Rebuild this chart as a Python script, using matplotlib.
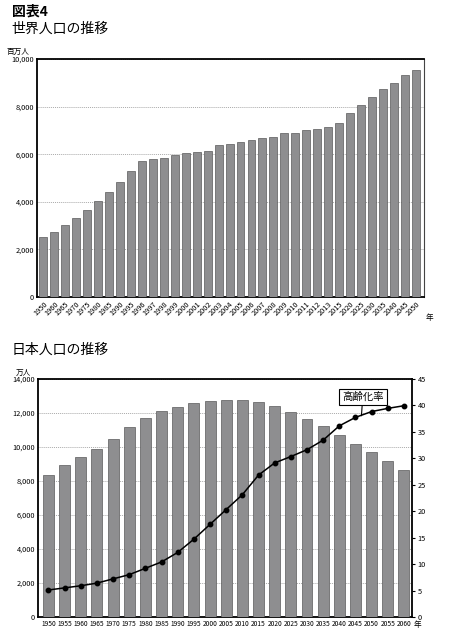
import matplotlib
matplotlib.use('Agg')
import matplotlib.pyplot as plt
import numpy as np

plt.rcParams['font.family'] = ['Noto Sans CJK JP', 'DejaVu Sans']

# 世界人口（百万人）
world_years = ['1950', '1960', '1965', '1970', '1975', '1980', '1985', '1990', '1995',
               '1996', '1997', '1998', '1999', '2000', '2001', '2002', '2003', '2004',
               '2005', '2006', '2007', '2008', '2009', '2010', '2011', '2012', '2013',
               '2015', '2020', '2025', '2030', '2035', '2040', '2045', '2050']
world_pop = [2510, 2730, 3010, 3300, 3650, 4050, 4420, 4850, 5290,
             5710, 5790, 5860, 5950, 6030, 6100, 6140, 6380, 6430,
             6510, 6580, 6670, 6740, 6890, 6900, 7000, 7070, 7160,
             7330, 7720, 8070, 8400, 8740, 8980, 9310, 9540]

# 日本人口（万人）と高齢化率（%）
japan_years = ['1950', '1955', '1960', '1965', '1970', '1975', '1980', '1985', '1990',
               '1995', '2000', '2005', '2010', '2015', '2020', '2025', '2030', '2035',
               '2040', '2045', '2050', '2055', '2060']
japan_pop = [8370, 8960, 9400, 9880, 10440, 11190, 11690, 12100, 12340,
             12560, 12690, 12770, 12730, 12650, 12410, 12060, 11660, 11200,
             10710, 10180, 9700, 9170, 8640]
aging_rate = [5.1, 5.5, 5.9, 6.4, 7.2, 8.0, 9.2, 10.4, 12.2,
              14.7, 17.5, 20.3, 23.1, 26.8, 29.1, 30.3, 31.6, 33.4,
              36.1, 37.7, 38.8, 39.4, 39.9]

narrow = ['Liberation Sans Narrow', 'Noto Sans CJK JP', 'DejaVu Sans']
bar_color = '#8e8e90'
bar_edge = '#5a5a5a'

fig = plt.figure(figsize=(4.5, 6.31), dpi=100)

fig.text(0.026, 0.993, '図表4', fontsize=10, fontweight='bold', va='top')
fig.text(0.026, 0.965, '世界人口の推移', fontsize=10, va='top')

# ---- 世界人口 ----
ax1 = fig.add_axes([0.0822, 0.5293, 0.8598, 0.3772])
x1 = np.arange(len(world_years))
ax1.bar(x1, world_pop, width=0.72, color=bar_color, edgecolor=bar_edge, linewidth=0.5, zorder=3)
ax1.set_xlim(-0.58, 34.74)
ax1.set_ylim(0, 10000)
ax1.set_yticks(range(0, 10001, 2000))
ax1.set_yticklabels(['0', '2,000', '4,000', '6,000', '8,000', '10,000'], family=narrow, fontsize=5.3)
ax1.set_xticks(x1)
ax1.set_xticklabels(world_years, rotation=45, ha='right', rotation_mode='anchor',
                    family=narrow, fontsize=5.3)
ax1.tick_params(length=0, pad=2)
ax1.grid(axis='y', color='#aaaaaa', linestyle=(0, (1, 1)), linewidth=0.7, zorder=0)
for s in ['left', 'top', 'bottom']:
    ax1.spines[s].set_linewidth(1.3)
ax1.spines['right'].set_linewidth(0.8)
ax1.spines['right'].set_color('#444444')
ax1.text(-0.02, 1.012, '百万人', transform=ax1.transAxes, fontsize=5.5, ha='right', va='bottom')
ax1.text(1.005, -0.07, '年', transform=ax1.transAxes, fontsize=5.5, ha='left', va='top')

fig.text(0.026, 0.457, '日本人口の推移', fontsize=10, va='top')

# ---- 日本人口 ----
ax2 = fig.add_axes([0.0844, 0.0222, 0.8312, 0.3776])
x2 = np.arange(len(japan_years))
ax2.bar(x2, japan_pop, width=0.68, color=bar_color, edgecolor=bar_edge, linewidth=0.5, zorder=3)
ax2.set_xlim(-0.65, 22.5)
ax2.set_ylim(0, 14000)
ax2.set_yticks(range(0, 14001, 2000))
ax2.set_yticklabels(['0', '2,000', '4,000', '6,000', '8,000', '10,000', '12,000', '14,000'],
                    family=narrow, fontsize=5.3)
ax2.set_xticks(x2)
ax2.set_xticklabels(japan_years, family=narrow, fontsize=4.8)
ax2.tick_params(length=0, pad=2)
ax2.grid(axis='y', color='#aaaaaa', linestyle=(0, (1, 1)), linewidth=0.7, zorder=0)
for s in ['left', 'top', 'bottom', 'right']:
    ax2.spines[s].set_linewidth(1.3)
ax2.text(-0.02, 1.008, '万人', transform=ax2.transAxes, fontsize=5.5, ha='right', va='bottom')
ax2.text(1.005, -0.018, '年', transform=ax2.transAxes, fontsize=5.5, ha='left', va='top')

ax3 = ax2.twinx()
ax3.plot(x2, aging_rate, color='black', linewidth=1.1, marker='o', markersize=3.2, zorder=5)
ax3.set_ylim(0, 45)
ax3.set_yticks(range(0, 46, 5))
ax3.set_yticklabels([str(v) for v in range(0, 46, 5)], family=narrow, fontsize=5.3)
ax3.tick_params(length=2, pad=2)
for s in ax3.spines.values():
    s.set_visible(False)

ax3.annotate('高齢化率', xy=(19.37, 38.0), xytext=(19.45, 41.6), fontsize=7.5,
             ha='center', va='center',
             bbox=dict(boxstyle='square,pad=0.3', fc='white', ec='black', lw=0.8),
             arrowprops=dict(arrowstyle='-', color='black', lw=0.8, shrinkA=0, shrinkB=0))

fig.savefig('out.png', dpi=100)
